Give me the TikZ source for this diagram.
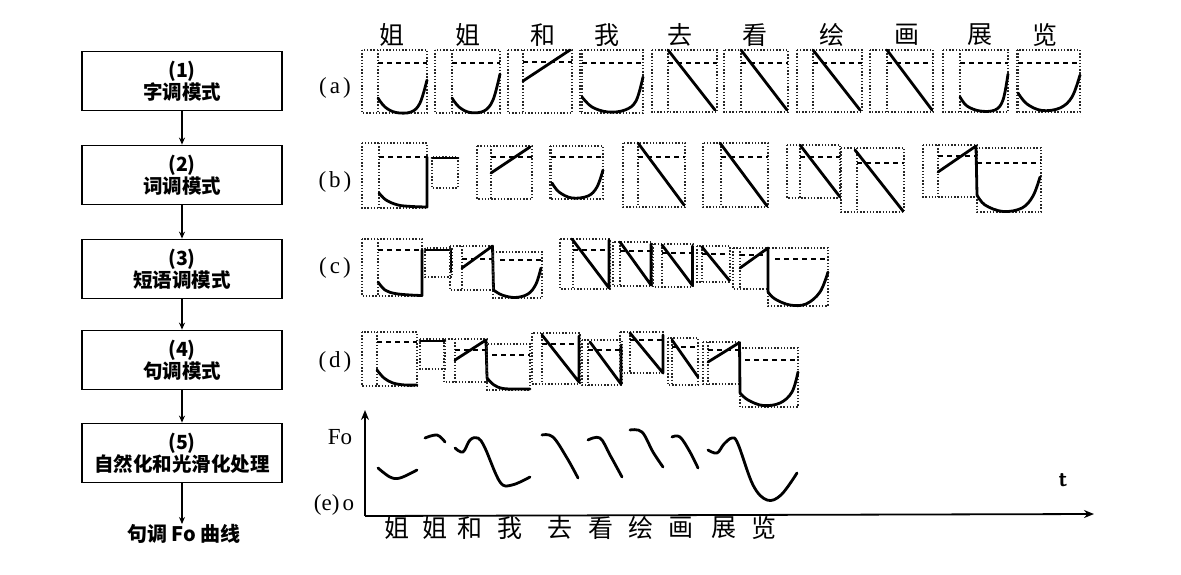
\documentclass[tikz,border=0pt]{standalone}
\usepackage{fontspec}
\setmainfont{Liberation Serif}
\newfontfamily\cjk{Noto Sans CJK SC}
\usetikzlibrary{arrows.meta}
\tikzset{
  dotbox/.style={draw=black!85, line width=1.6pt, dash pattern=on 1.4pt off 1.8pt},
  dashln/.style={black, line width=2pt, dash pattern=on 5pt off 4pt},
  tone/.style={black, line width=2.8pt, line cap=round, line join=round},
  flow/.style={draw, line width=1.8pt, minimum width=200pt, minimum height=59pt, align=center,
    font=\cjk\bfseries\fontsize{19.5}{22}\selectfont, inner sep=0pt},
  flowarr/.style={line width=1.8pt, -{Stealth[length=7pt,width=6pt]}},
  axis/.style={line width=1.8pt, -{Stealth[length=10pt,width=8pt]}},
  topch/.style={font=\cjk\fontsize{25}{25}\selectfont, inner sep=0pt},
  rowlab/.style={font=\fontsize{23}{23}\selectfont, inner sep=0pt},
}
\newcommand\tonebox[6]{%
  \draw[dotbox] (#1,#2) rectangle (#3,#4);
  \draw[dotbox] (#5,#2) -- (#5,#4);
  \draw[dashln] (#5,#6) -- (#3,#6);}
\begin{document}
\begin{tikzpicture}[x=1pt,y=-1pt]
\useasboundingbox[fill=white] (0,0) rectangle (1181,574);

% ---------- flowchart ----------
\node[flow] (f1) at (182,81)  {(1)\\字调模式};
\node[flow] (f2) at (182,175) {(2)\\词调模式};
\node[flow] (f3) at (182,269) {(3)\\短语调模式};
\node[flow] (f4) at (182,360) {(4)\\句调模式};
\node[flow] (f5) at (182,453) {(5)\\自然化和光滑化处理};
\node[font=\cjk\bfseries\fontsize{20}{22}\selectfont, inner sep=0pt, anchor=north] (out) at (184,524) {句调 Fo 曲线};
\draw[flowarr] (f1) -- (f2);
\draw[flowarr] (f2) -- (f3);
\draw[flowarr] (f3) -- (f4);
\draw[flowarr] (f4) -- (f5);
\draw[flowarr] (f5.south) -- (f5.south |- out.north);

% ---------- top characters ----------
\node[topch] (t1) at (392,35) {姐};
\node[topch] (t2) at (468,35) {姐};
\node[topch] (t3) at (543,35) {和};
\node[topch] (t4) at (607,35) {我};
\node[topch] (t5) at (680,35) {去};
\node[topch] (t6) at (755,35) {看};
\node[topch] (t7) at (832,35) {绘};
\node[topch] (t8) at (907,35) {画};
\node[topch] (t9) at (980,35) {展};
\node[topch] (t10) at (1045,35) {览};

% ---------- row labels ----------
\node[rowlab] (la) at (335,88)  {(\kern3pt a\kern3pt)};
\node[rowlab] (lb) at (335,182) {(\kern3pt b\kern3pt)};
\node[rowlab] (lc) at (335,268) {(\kern3pt c\kern3pt)};
\node[rowlab] (ld) at (335,362) {(\kern3pt d\kern3pt)};

% ---------- row (a) ----------
\tonebox{362}{50}{427}{113}{378}{63}
\draw[tone] plot[smooth,tension=0.6] coordinates {(378,98) (385,107) (396,112.5) (411,112) (420,103) (427,80)};
\tonebox{435}{50}{500}{113}{452}{63}
\draw[tone] plot[smooth,tension=0.6] coordinates {(452,98) (459,107) (470,112.5) (484,111) (493,100) (500,74)};
\tonebox{508}{50}{572}{113}{523}{62}
\draw[tone] (523,81) -- (570,50);
\tonebox{580}{50}{643}{113}{582}{63}
\draw[tone] plot[smooth,tension=0.6] coordinates {(582,97) (592,107) (608,112) (625,110) (636,101) (643,77)};
\tonebox{652}{50}{717}{112}{668}{63}
\draw[tone] (668,50) -- (715,110);
\tonebox{724}{50}{788}{112}{741}{63}
\draw[tone] (741,50) -- (787,110);
\tonebox{797}{50}{862}{112}{813}{63}
\draw[tone] (813,50) -- (860,110);
\tonebox{870}{50}{933}{112}{887}{63}
\draw[tone] (887,50) -- (932,110);
\tonebox{943}{50}{1008}{112}{960}{63}
\draw[tone] plot[smooth,tension=0.6] coordinates {(960,97) (967,106) (980,111) (995,110) (1003,100) (1008,74)};
\tonebox{1017}{50}{1080}{112}{1018}{63}
\draw[tone] plot[smooth,tension=0.6] coordinates {(1018,93) (1027,104) (1042,110.5) (1060,108) (1072,97) (1080,75)};

% ---------- row (b) ----------
\tonebox{362}{143}{427}{208}{379}{157}
\draw[tone] plot[smooth,tension=0.6] coordinates {(379,193) (386,200) (398,205) (412,206.5) (427,207)} -- (427,157);
\draw[dotbox] (432,157) rectangle (458,188);
\draw[tone] (432,158) -- (458,158);
\tonebox{477}{146}{532}{199}{491}{157}
\draw[tone] (491,173) -- (530,147);
\tonebox{550}{146}{603}{199}{551}{157}
\draw[tone] plot[smooth,tension=0.6] coordinates {(552,183) (559,192) (572,198) (588,196) (597,187) (603,170)};
\tonebox{623}{143}{685}{207}{638}{157}
\draw[tone] (638,143) -- (684,205);
\tonebox{703}{143}{768}{207}{721}{157}
\draw[tone] (720,143) -- (767,206);
\tonebox{787}{145}{840}{198}{800}{157}
\draw[tone] (800,145) -- (840,197);
\tonebox{841}{148}{904}{212}{857}{163}
\draw[tone] (855,150) -- (903,211);
\tonebox{923}{145}{977}{197}{938}{156}
\tonebox{977}{148}{1041}{212}{977}{163}
\draw[tone] (938,172) -- (976,146) -- (977,195);
\draw[tone] plot[smooth,tension=0.6] coordinates {(977,195) (985,205) (1003,211.5) (1022,208) (1033,196) (1040,177)};

% ---------- row (c) ----------
\tonebox{362}{239}{422}{296}{378}{250}
\draw[tone] plot[smooth,tension=0.6] coordinates {(378,282) (385,290) (395,293.5) (410,295) (422,295.5)} -- (422,250);
\draw[dotbox] (425,248) rectangle (452,277);
\draw[tone] (425,250) -- (451,250) -- (451,272);
\tonebox{450}{246}{493}{290}{462}{259}
\draw[tone] (462,268) -- (492.5,246) -- (493.5,290);
\draw[dotbox] (493,252) rectangle (542,298);
\draw[dashln] (500,260) -- (542,260);
\draw[tone] plot[smooth,tension=0.6] coordinates {(493.5,290) (502,295) (515,297.5) (528,294) (536,284) (541,268)};
\tonebox{560}{239}{610}{289}{573}{250}
\draw[tone] (572,239) -- (609,288) -- (609,240);
\tonebox{613}{242}{652}{286}{620}{251}
\draw[tone] (620,242) -- (651,285) -- (651,244);
\tonebox{653}{244}{693}{287}{662}{253}
\draw[tone] (662,245) -- (692.5,285.5) -- (692.5,246);
\tonebox{697}{246}{730}{282}{702}{254}
\draw[tone] (702,247) -- (729,280);
\tonebox{733}{248}{768}{289}{740}{255}
\draw[dotbox] (768,248) rectangle (828,306);
\draw[dashln] (775,259) -- (828,259);
\draw[tone] (740,268) -- (768,248) -- (768,292);
\draw[tone] plot[smooth,tension=0.6] coordinates {(768,292) (775,299) (790,305) (806,304) (820,292) (828,272)};

% ---------- row (d) ----------
\tonebox{362}{332}{417}{386}{377}{342}
\draw[tone] plot[smooth,tension=0.6] coordinates {(377,370) (384,378) (393,383) (405,385) (417,385)};
\draw[dotbox] (420,339) rectangle (445,369);
\draw[tone] (420,341) -- (445,341);
\tonebox{444}{339}{487}{382}{455}{350}
\draw[tone] (455,360) -- (486,340) -- (487,378);
\draw[dotbox] (487,344) rectangle (530,390);
\draw[dashln] (492,355) -- (530,355);
\draw[tone] plot[smooth,tension=0.6] coordinates {(487,378) (494,385) (503,388.5) (517,389) (530,389)};
\tonebox{532}{333}{580}{384}{542}{344}
\draw[tone] (542,335) -- (579,382) -- (579,336);
\tonebox{582}{340}{622}{385}{588}{350}
\draw[tone] (590,342) -- (621,384) -- (621,345);
\tonebox{620}{332}{663}{373}{630}{340}
\draw[tone] (630,333) -- (663,373) -- (663,335);
\tonebox{668}{338}{698}{385}{672}{347}
\draw[tone] (672,340) -- (698,377);
\tonebox{703}{342}{740}{384}{708}{350}
\draw[dotbox] (740,348) rectangle (798,407);
\draw[dashln] (745,360) -- (798,360);
\draw[tone] (708,362) -- (739.5,342.5) -- (740,393);
\draw[tone] plot[smooth,tension=0.6] coordinates {(740,393) (748,400) (763,405.5) (780,403) (792,392) (798,372)};

% ---------- row (e) ----------
\coordinate (o) at (365,516);
\coordinate (ytop) at (365,410);
\coordinate (xend) at (1094,514);
\draw[axis] (o) -- (ytop);
\draw[axis] (o) -- (xend);
\node[rowlab] (fo) at (340,437) {Fo};
\node[rowlab] (le) at (334,505) {(e)\kern3pt o};
\node[font=\sffamily\bfseries\fontsize{22}{22}\selectfont, inner sep=0pt] (tl) at (1063,480) {t};

\draw[tone] plot[smooth,tension=0.6] coordinates {(378,468) (390,477) (400,478) (417,470)};
\draw[tone] plot[smooth,tension=0.6] coordinates {(425,438) (437,435) (445,442)};
\draw[tone] plot[smooth,tension=0.6] coordinates {(455,448) (463,452) (470,440) (478,438) (485,448) (500,482) (512,485) (530,477)};
\draw[tone] plot[smooth,tension=0.6] coordinates {(542,435) (553,437) (567,458) (578,478)};
\draw[tone] plot[smooth,tension=0.6] coordinates {(588,440) (600,438) (610,455) (622,477)};
\draw[tone] plot[smooth,tension=0.6] coordinates {(630,430) (642,432) (653,452) (663,467)};
\draw[tone] plot[smooth,tension=0.6] coordinates {(672,437) (680,437) (690,452) (698,468)};
\draw[tone] plot[smooth,tension=0.6] coordinates {(708,450) (717,453) (724,444) (732,438) (738,444) (753,485) (767,500) (781,495) (797,473)};

\node[topch] (b1) at (397,528) {姐};
\node[topch] (b2) at (435,528) {姐};
\node[topch] (b3) at (470,528) {和};
\node[topch] (b4) at (510,528) {我};
\node[topch] (b5) at (560,528) {去};
\node[topch] (b6) at (601,528) {看};
\node[topch] (b7) at (641,528) {绘};
\node[topch] (b8) at (681,528) {画};
\node[topch] (b9) at (724,528) {展};
\node[topch] (b10) at (764,528) {览};
\end{tikzpicture}
\end{document}
